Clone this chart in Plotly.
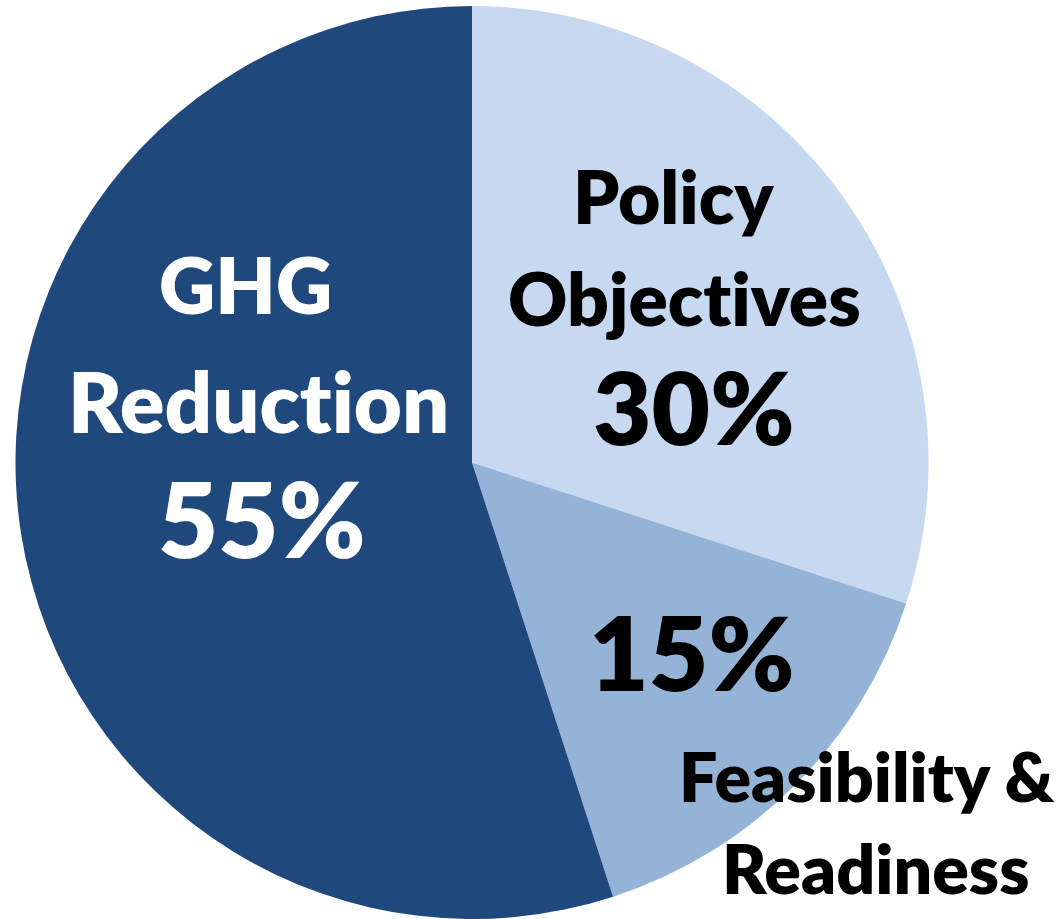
import plotly.graph_objects as go

W, H = 1064, 919

labels = ["Policy Objectives", "Feasibility & Readiness", "GHG Reduction"]
values = [30, 15, 55]
colors = ["#C6D9F1", "#95B3D7", "#1F497D"]

ZWNJ = "\u200c"  # keeps the "ti" pair from forming a ligature
# label text lines: (text, x_px, y_px of visual centre, size, color)
label_lines = [
    ("Policy", 673, 200, 73, "#000000"),
    ("Objec" + "t" + ZWNJ + "ives", 684, 302, 73, "#000000"),
    ("30%", 694, 412, 101, "#000000"),
    ("GHG", 245, 289, 78, "#FFFFFF"),
    ("Reduc" + "t" + ZWNJ + "ion", 258, 406, 83, "#FFFFFF"),
    ("55%", 262, 524, 104, "#FFFFFF"),
    ("15%", 692, 657, 103, "#000000"),
    ("Feasibility &", 867, 780, 68, "#000000"),
    ("Readiness", 875, 872, 68, "#000000"),
]

FONT = "Lato"
WEIGHT = 800


def px_x(x):
    return x / W


def px_y(y):
    return 1 - y / H


fig = go.Figure(go.Pie(
    labels=labels,
    values=values,
    sort=False,
    direction="clockwise",
    rotation=0,
    marker=dict(colors=colors, line=dict(width=0)),
    textinfo="none",
    hoverinfo="label+percent",
    domain=dict(x=[px_x(15), px_x(929)], y=[0, px_y(6)]),
))

annotations = []
for text, xp, yp, size, col in label_lines:
    annotations.append(dict(
        text=text,
        x=px_x(xp), y=px_y(yp - 0.06 * size),
        xref="paper", yref="paper",
        xanchor="center", yanchor="middle",
        showarrow=False,
        font=dict(family=FONT, size=size, color=col, weight=WEIGHT),
    ))

fig.update_layout(
    width=W, height=H,
    margin=dict(l=0, r=0, t=0, b=0),
    paper_bgcolor="white",
    plot_bgcolor="white",
    showlegend=False,
    annotations=annotations,
)

fig.write_html(
    "out.html",
    config={"displayModeBar": False},
    post_script="document.body.style.margin='0';document.body.style.overflow='hidden';",
)
